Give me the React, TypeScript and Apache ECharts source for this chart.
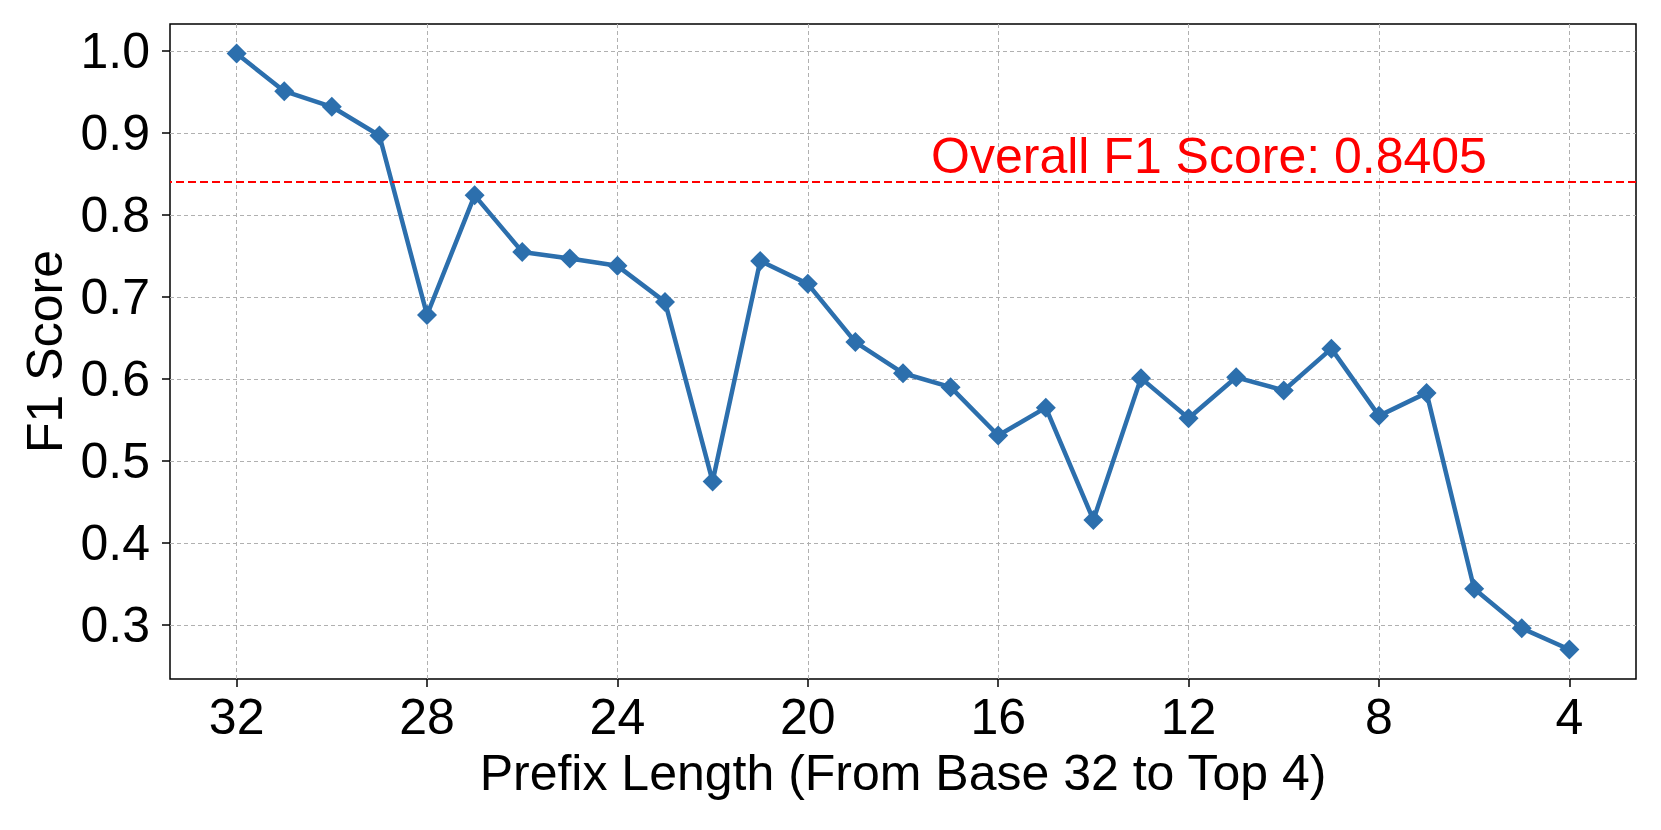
import React, { useEffect, useRef } from "react";
import * as echarts from "echarts";

const prefixLengths = [32, 31, 30, 29, 28, 27, 26, 25, 24, 23, 22, 21, 20, 19, 18, 17, 16, 15, 14, 13, 12, 11, 10, 9, 8, 7, 6, 5, 4];
const f1Scores = [0.997, 0.951, 0.932, 0.897, 0.678, 0.824, 0.755, 0.747, 0.738, 0.694, 0.475, 0.744, 0.716, 0.645, 0.607, 0.590, 0.531, 0.565, 0.428, 0.601, 0.552, 0.602, 0.586, 0.637, 0.555, 0.583, 0.344, 0.296, 0.270];
const overallF1 = 0.8405;
const xTicks = [32, 28, 24, 20, 16, 12, 8, 4];
const yTicks = [0.3, 0.4, 0.5, 0.6, 0.7, 0.8, 0.9, 1.0];
const xLabel = "Prefix Length (From Base 32 to Top 4)";
const yLabel = "F1 Score";
const annotation = `Overall F1 Score: ${overallF1.toFixed(4)}`;

const FONT = "'Liberation Sans', Arial, Helvetica, sans-serif";

export default function App() {
  const ref = useRef<HTMLDivElement>(null);
  useEffect(() => {
    if (!ref.current) return;
    const chart = echarts.init(ref.current, undefined, { renderer: "svg" });
    chart.setOption({
      animation: false,
      backgroundColor: "#ffffff",
      grid: {
        left: 170,
        right: 25,
        top: 24,
        bottom: 151,
        show: true,
        borderColor: "#000000",
        borderWidth: 1.5,
        backgroundColor: "transparent",
      },
      xAxis: {
        type: "value",
        inverse: true,
        min: 2.6,
        max: 33.4,
        axisLine: { show: false },
        axisTick: { show: true, inside: false, length: 8, lineStyle: { color: "#000", width: 1.5 }, customValues: xTicks },
        axisLabel: { customValues: xTicks, fontSize: 50, color: "#000", margin: 13, fontFamily: FONT },
        splitLine: { show: true, lineStyle: { color: "#b0b0b0", type: [4, 3], width: 1 } },
        name: xLabel,
        nameLocation: "middle",
        nameGap: 69,
        nameTextStyle: { fontSize: 50, color: "#000", fontFamily: FONT },
      },
      yAxis: {
        type: "value",
        min: 0.234,
        max: 1.033,
        axisLine: { show: false },
        axisTick: { show: true, inside: false, length: 8, lineStyle: { color: "#000", width: 1.5 }, customValues: yTicks },
        axisLabel: {
          customValues: yTicks,
          fontSize: 50,
          color: "#000",
          margin: 20,
          fontFamily: FONT,
          formatter: (v: number) => v.toFixed(1),
        },
        splitLine: { show: true, lineStyle: { color: "#b0b0b0", type: [4, 3], width: 1 } },
        name: yLabel,
        nameLocation: "middle",
        nameGap: 95,
        nameTextStyle: { fontSize: 50, color: "#000", fontFamily: FONT },
      },
      series: [
        {
          type: "line",
          data: prefixLengths.map((p, i) => [p, f1Scores[i]]),
          symbol: "diamond",
          symbolSize: 20,
          lineStyle: { color: "#2c6fad", width: 4.5 },
          itemStyle: { color: "#2c6fad" },
          markLine: {
            silent: true,
            symbol: "none",
            label: { show: false },
            lineStyle: { color: "#ff0000", type: [8, 4], width: 2 },
            data: [{ yAxis: overallF1 }],
          },
        },
      ],
    });
    const [px, py] = chart.convertToPixel({ xAxisIndex: 0, yAxisIndex: 0 }, [17.41, overallF1]) as number[];
    chart.setOption({
      graphic: [
        {
          type: "text",
          x: px,
          y: py - 1,
          style: {
            text: annotation,
            fill: "#ff0000",
            fontSize: 50,
            fontFamily: FONT,
            align: "left",
            verticalAlign: "bottom",
          },
        },
      ],
    });
    return () => chart.dispose();
  }, []);
  return (
    <div
      ref={ref}
      style={{ position: "fixed", left: 0, top: 0, width: 1661, height: 830, background: "#fff" }}
    />
  );
}
